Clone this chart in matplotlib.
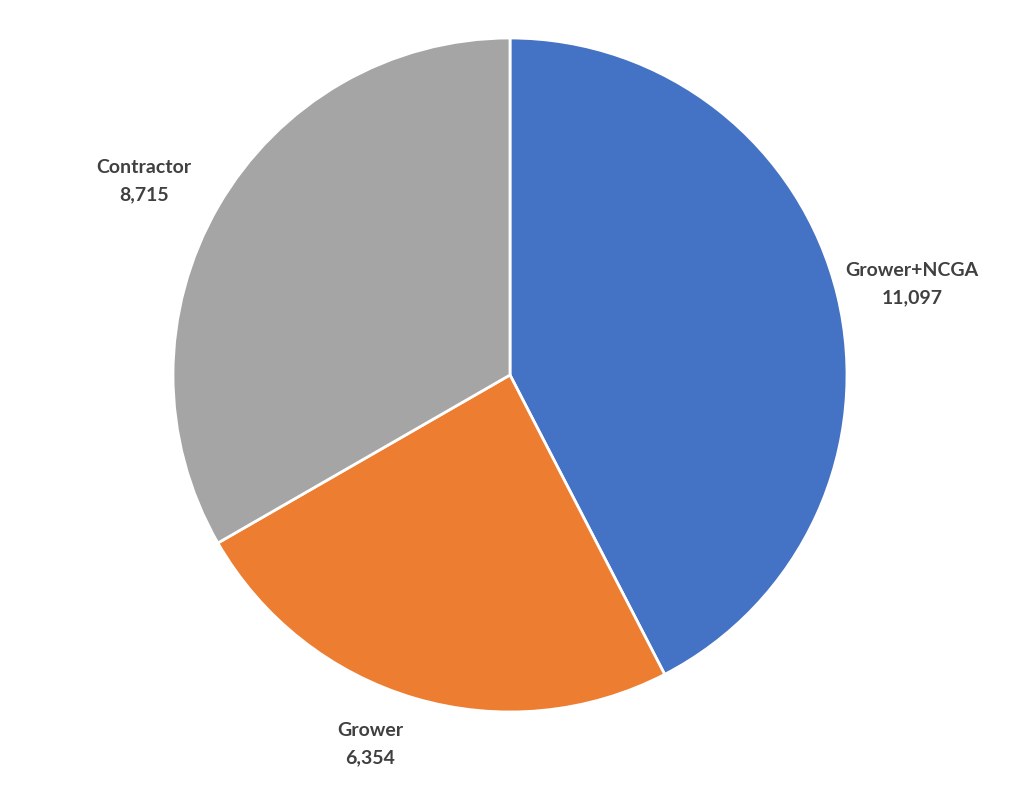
import matplotlib
matplotlib.use("Agg")
import matplotlib.pyplot as plt

categories = ["Grower+NCGA", "Grower", "Contractor"]
values = [11097, 6354, 8715]
colors = ["#4472C4", "#ED7D31", "#A5A5A5"]

W, H = 1023, 786
cx, cy, r = 510, 375, 337  # pixel layout of the pie
# label centres in pixels (layout only)
label_px = [(912, 284), (370, 744), (144, 181)]

fig = plt.figure(figsize=(W / 100, H / 100), dpi=100)
ax = fig.add_axes([0, 0, 1, 1])
ax.set_aspect("equal")
ax.axis("off")

labels = [f"{c}\n{v:,}" for c, v in zip(categories, values)]
wedges, texts = ax.pie(
    values,
    labels=labels,
    colors=colors,
    startangle=90,
    counterclock=False,
    radius=1,
    labeldistance=1.21,
    wedgeprops=dict(edgecolor="white", linewidth=2),
    textprops=dict(fontsize=14, fontweight="bold", color="#404040",
                   family="Lato", ha="center", va="center", linespacing=1.75),
)
for t, (px, py) in zip(texts, label_px):
    t.set_position(((px - cx) / r, (cy - py) / r))

ax.set_xlim(-cx / r, (W - cx) / r)
ax.set_ylim(-(H - cy) / r, cy / r)

fig.savefig("out.png", dpi=100, facecolor="white")
